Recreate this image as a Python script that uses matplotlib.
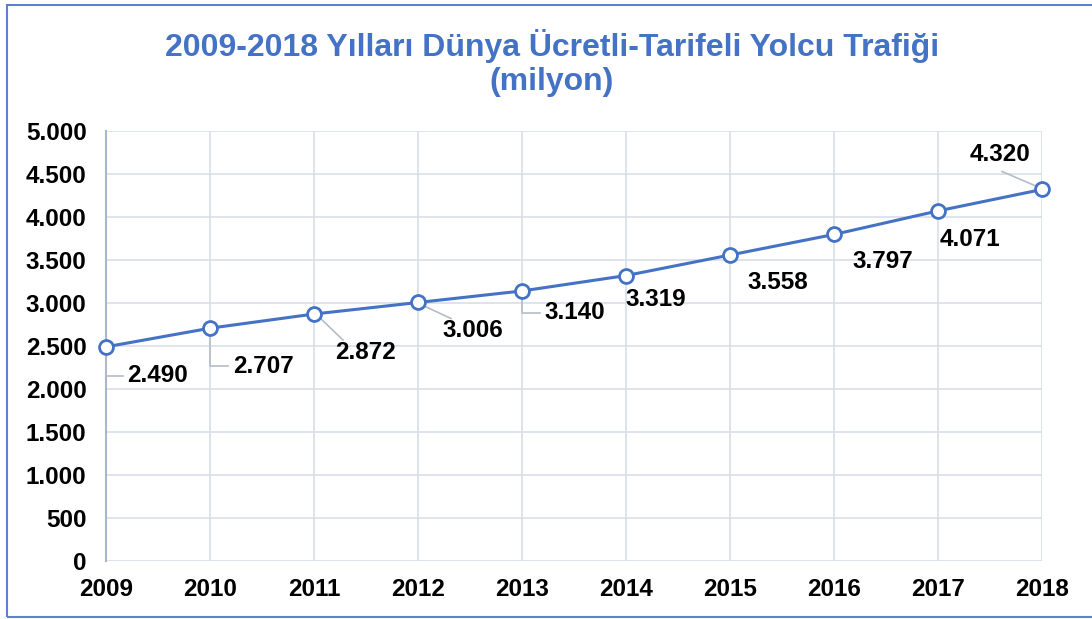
import matplotlib
matplotlib.use("Agg")
import matplotlib.pyplot as plt
from matplotlib.patches import Rectangle

years = ["2009", "2010", "2011", "2012", "2013", "2014", "2015", "2016", "2017", "2018"]
values = [2490, 2707, 2872, 3006, 3140, 3319, 3558, 3797, 4071, 4320]
labels = ["2.490", "2.707", "2.872", "3.006", "3.140", "3.319", "3.558", "3.797", "4.071", "4.320"]
yticks = [0, 500, 1000, 1500, 2000, 2500, 3000, 3500, 4000, 4500, 5000]
ytick_labels = ["0", "500", "1.000", "1.500", "2.000", "2.500", "3.000", "3.500", "4.000", "4.500", "5.000"]
title = "2009-2018 Yılları Dünya Ücretli-Tarifeli Yolcu Trafiği\n(milyon)"

# label offsets in pixels (dx, dy) relative to point; leader type
offsets = [(52, -29), (53, -38), (51, -38), (55, -28), (53, -22), (30, -24), (48, -27), (49, -27), (32, -29), (-42, 35)]
leaders = ["elbow", "elbow", "diag", "diag", "elbow", None, None, None, None, "diag"]

plt.rcParams['font.family'] = ['Liberation Sans', 'DejaVu Sans']
blue = "#4472C4"

fig = plt.figure(figsize=(10.92, 6.19), dpi=100)
fig.patches.append(Rectangle((7/1092, 2/619), 1.2, 612/619, transform=fig.transFigure,
                             fill=False, edgecolor="#5B83CC", linewidth=1.5))
ax = fig.add_axes([106/1092, 58/619, 936/1092, 430/619])

x = list(range(len(years)))
ax.plot(x, values, color=blue, linewidth=2.2, marker="o", markersize=10,
        markerfacecolor="white", markeredgecolor=blue, markeredgewidth=2, zorder=5, clip_on=False)

ax.set_xlim(0, len(years) - 1)
ax.set_ylim(0, 5000)
ax.set_yticks(yticks)
ax.set_yticklabels(ytick_labels)
ax.set_xticks(x)
ax.set_xticklabels(years)
ax.tick_params(length=0, labelsize=17.5)
for t in ax.get_xticklabels() + ax.get_yticklabels():
    t.set_fontweight("bold")
ax.tick_params(axis="y", pad=14)
ax.tick_params(axis="x", pad=12)
ax.grid(True, color="#D9DEE8", linewidth=1.2)
ax.set_axisbelow(True)
for s in ["top", "right", "bottom"]:
    ax.spines[s].set_visible(False)
ax.spines["left"].set_color("#A9B6CF")
ax.spines["left"].set_linewidth(1.5)

lc = "#B4BCC8"
for i, (v, lab) in enumerate(zip(values, labels)):
    dx, dy = offsets[i]
    ax.annotate(lab, (i, v), xytext=(dx, dy), textcoords="offset pixels",
                ha="center", va="center", fontsize=17.5, fontweight="bold", color="black", zorder=6)
    ptx, pty = ax.transData.transform((i, v))
    kind = leaders[i]
    inv = ax.transData.inverted()
    if kind == "elbow":
        tx = ptx + dx - 35
        ty = pty + dy
        pts = [(ptx, pty - 7), (ptx, ty), (tx, ty)]
    elif kind == "diag":
        if dx > 0:
            pts = [(ptx + 5, pty - 3), (ptx + dx - 22, pty + dy + 12)]
        else:
            pts = [(ptx - 5, pty + 3), (ptx + dx + 2, pty + dy - 17)]
    else:
        continue
    dpts = [inv.transform(p) for p in pts]
    ax.plot([p[0] for p in dpts], [p[1] for p in dpts], color=lc, linewidth=1.2, zorder=4, clip_on=False)

fig.text(552/1092, 1 - 63/619, title, ha="center", va="center", fontsize=23,
         fontweight="bold", color=blue, linespacing=1.2)

fig.savefig("out.png", dpi=100)
